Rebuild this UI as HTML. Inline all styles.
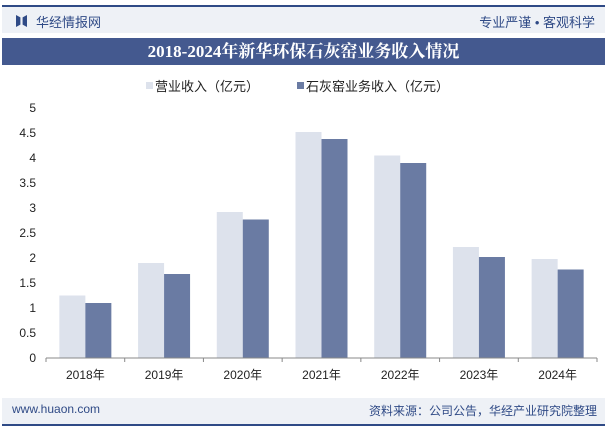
<!DOCTYPE html>
<html><head><meta charset="utf-8"><style>
body{margin:0;width:609px;height:428px;overflow:hidden;background:#fff;font-family:"Liberation Sans","Noto Sans CJK SC",sans-serif;position:relative}
div{position:absolute}
</style></head><body>
<div style="left:2px;top:5px;width:603px;height:2px;background:#2f4a86"></div>
<div style="left:2px;top:7px;width:603px;height:26px;background:#eef1f6"></div>
<div style="left:16px;top:15px;width:11px;height:12px;background:#2f4a86;clip-path:polygon(0 0,40% 20%,40% 80%,0 100%,0 0,100% 0,100% 100%,60% 80%,60% 20%,100% 0)"></div>
<div style="left:36px;top:12px;font-size:13px;color:#2f4a86">华经情报网</div>
<div style="right:14px;top:12px;font-size:13px;color:#2f4a86">专业严谨 • 客观科学</div>
<div style="left:2px;top:38px;width:603px;height:27px;background:#44598f;color:#fff;font-family:'Liberation Serif','Noto Serif CJK SC',serif;font-weight:bold;font-size:17px;line-height:27px;text-align:center">2018-2024年新华环保石灰窑业务收入情况</div>
<div style="left:146px;top:82px;width:7px;height:7px;background:#dde2ec"></div>
<div style="left:155px;top:76px;font-size:13px;color:#222">营业收入（亿元）</div>
<div style="left:297px;top:82px;width:7px;height:7px;background:#6a7ba3"></div>
<div style="left:306px;top:76px;font-size:13px;color:#222">石灰窑业务收入（亿元）</div>
<svg width="609" height="428" style="position:absolute;left:0;top:0">
<g id="g"></g>
</svg>
<div style="left:2px;top:398px;width:603px;height:26px;background:#eef1f6"></div>
<div style="left:2px;top:424px;width:603px;height:2px;background:#2f4a86"></div>
<div style="left:12px;top:402px;font-size:12px;color:#2f4a86">www.huaon.com</div>
<div style="right:12px;top:402px;font-size:12px;color:#2f4a86">资料来源：公司公告，华经产业研究院整理</div>
<script>
const categories=["2018年","2019年","2020年","2021年","2022年","2023年","2024年"];
const revenue=[1.25,1.9,2.92,4.52,4.05,2.22,1.98];
const limeRevenue=[1.1,1.68,2.77,4.38,3.9,2.02,1.77];
const yTicks=[0,0.5,1,1.5,2,2.5,3,3.5,4,4.5,5];
const g=document.getElementById('g');const NS='http://www.w3.org/2000/svg';
const x0=46,x1=597,y0=358,yTop=108,band=(x1-x0)/categories.length;
const y=v=>y0-(v/5)*(y0-yTop);
function mk(t,a){const e=document.createElementNS(NS,t);for(const k in a)e.setAttribute(k,a[k]);g.appendChild(e);return e;}
yTicks.forEach(v=>{const t=mk('text',{x:36,y:y(v)+4,'text-anchor':'end','font-size':12,fill:'#222'});t.textContent=v;

});
categories.forEach((c,i)=>{const cx=x0+band*(i+0.5);
const b1=mk('rect',{x:cx-26,y:y(revenue[i]),width:26,height:y0-y(revenue[i]),fill:'#dde2ec'});


const b2=mk('rect',{x:cx,y:y(limeRevenue[i]),width:26,height:y0-y(limeRevenue[i]),fill:'#6a7ba3'});


const t=mk('text',{x:cx,y:379,'text-anchor':'middle','font-size':12,fill:'#222'});t.textContent=c;

});
for(let i=0;i<=categories.length;i++){const tk=mk('line',{x1:x0+band*i,x2:x0+band*i,y1:y0,y2:y0+4,stroke:'#888'});

}
const ax=mk('line',{x1:x0,x2:x1,y1:y0,y2:y0,stroke:'#888'});


</script>
</body></html>
